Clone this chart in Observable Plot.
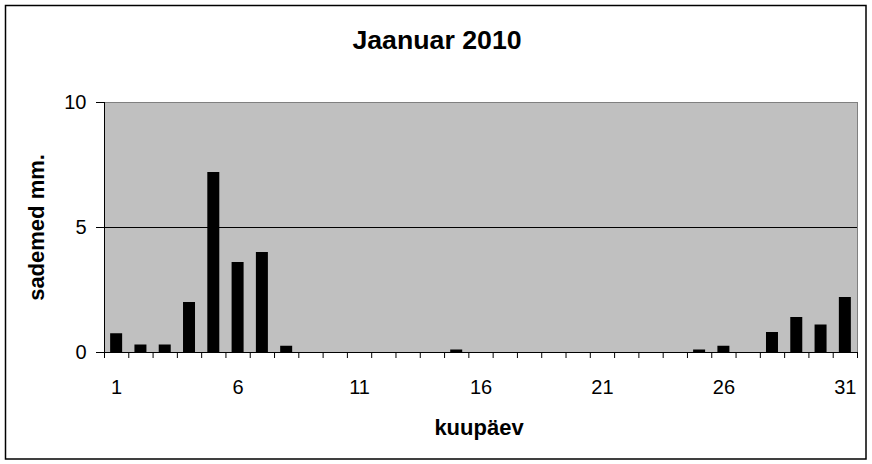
<!DOCTYPE html>
<html>
<head>
<meta charset="utf-8">
<script src="https://cdn.jsdelivr.net/npm/d3@7"></script>
<script src="https://cdn.jsdelivr.net/npm/@observablehq/plot@0.6"></script>
<style>
  html, body { margin: 0; padding: 0; background: white; }
</style>
</head>
<body>
<div id="chart"></div>
<script>
const title = "Jaanuar 2010";
const xLabel = "kuupäev";
const yLabel = "sademed mm.";
const days = [1,2,3,4,5,6,7,8,9,10,11,12,13,14,15,16,17,18,19,20,21,22,23,24,25,26,27,28,29,30,31];
const precip = [0.75,0.3,0.3,2.0,7.2,3.6,4.0,0.25,0,0,0,0,0,0,0.1,0,0,0,0,0,0,0,0,0,0.1,0.25,0,0.8,1.4,1.1,2.2];
const xTickLabels = [1,6,11,16,21,26,31];
const yTicks = [0,5,10];

const data = days.map((d, i) => ({day: d, value: precip[i]}));
const boundaries = days.map(d => d - 0.5).concat([days[days.length - 1] + 0.5]);

const font = "'Liberation Sans', Arial, sans-serif";

const chart = Plot.plot({
  width: 872,
  height: 464,
  marginLeft: 104,
  marginRight: 15,
  marginTop: 102,
  marginBottom: 112,
  style: {fontFamily: font, fontSize: "20px", background: "white", color: "black"},
  x: {domain: [0.5, 31.5], label: null},
  y: {domain: [0, 10], label: null},
  marks: [
    Plot.frame({fill: "#c0c0c0", stroke: "#808080"}),
    Plot.ruleY([5], {stroke: "black", strokeWidth: 1}),
    Plot.rectY(data.filter(d => d.value > 0), {
      x1: d => d.day - 0.247,
      x2: d => d.day + 0.247,
      y1: 0,
      y2: "value",
      fill: "black"
    }),
    Plot.ruleY([0], {stroke: "black", strokeWidth: 1}),
    Plot.ruleX([0.5], {stroke: "black", strokeWidth: 1}),
    Plot.axisY({ticks: yTicks, tickSize: 8, tickPadding: 10, tickFormat: d => String(d), label: null, fontSize: 20}),
    Plot.axisX({ticks: boundaries, tickSize: 6, tickFormat: () => "", label: null}),
    Plot.axisX({ticks: xTickLabels, tickSize: 0, tickPadding: 27, tickFormat: d => String(d), label: null, fontSize: 20}),
    Plot.text([title], {frameAnchor: "top", lineAnchor: "bottom", dy: -54, dx: -44, fontSize: 26.7, fontWeight: "bold"}),
    Plot.text([xLabel], {frameAnchor: "bottom", lineAnchor: "bottom", dy: 82, dx: -2, fontSize: 22, fontWeight: "bold"}),
    Plot.text([yLabel], {frameAnchor: "left", textAnchor: "middle", lineAnchor: "bottom", rotate: -90, dx: -61, fontSize: 22, fontWeight: "bold"})
  ]
});

d3.select(chart).append("rect")
  .attr("x", 5.5).attr("y", 5.5)
  .attr("width", 860.5).attr("height", 453.5)
  .attr("fill", "none").attr("stroke", "black").attr("stroke-width", 1.5);

document.getElementById("chart").appendChild(chart);
</script>
</body>
</html>
